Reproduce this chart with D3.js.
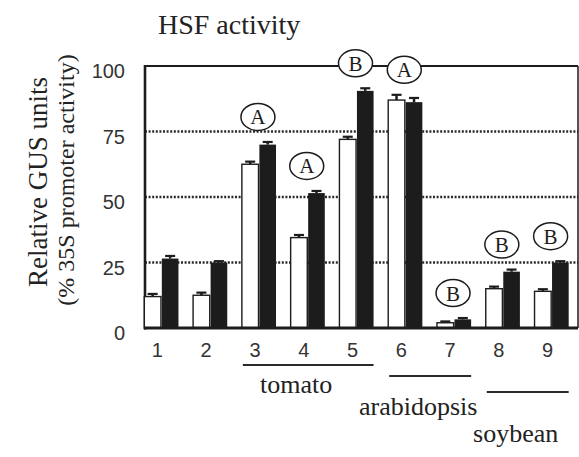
<!doctype html>
<html>
  <head>
    <meta charset="utf-8">
    <script src="https://d3js.org/d3.v7.min.js"></script>
    <style>
      body { margin: 0; background: #fff; }
      svg { display: block; }
    </style>
  </head>
  <body>
    <svg id="chart" width="579" height="457"></svg>
    <script>
      // construct numbers on the x axis
      const constructs = ["1", "2", "3", "4", "5", "6", "7", "8", "9"];
      // relative GUS units, open bars and filled bars
      const openValues = [12, 12.5, 62.5, 34.5, 72, 87, 2, 15, 14];
      const openErrors = [1, 1, 1, 1, 1, 2, 0.5, 0.8, 0.8];
      const filledValues = [26.5, 25, 70, 51.5, 90.5, 86.2, 3.3, 21.5, 25];
      const filledErrors = [1, 0.5, 1, 0.8, 1, 1.6, 0.5, 0.8, 0.5];
      // circled letters over the bars
      const markConstructs = ["3", "4", "5", "6", "7", "8", "9"];
      const markLetters = ["A", "A", "B", "A", "B", "B", "B"];
      // species groups under the axis
      const groupNames = ["tomato", "arabidopsis", "soybean"];
      const groupFirst = ["3", "6", "8"];
      const groupLast = ["5", "7", "9"];
      const yTicks = [0, 25, 50, 75, 100];

      const ink = "#1c1c1c";
      const frame = { left: 145, right: 578, top: 66, bottom: 328 };
      const groupLineY = [365, 376, 392];
      const groupTextY = [393, 415, 442];

      const svg = d3.select("#chart");

      const y = d3.scaleLinear().domain([0, 100]).range([frame.bottom, frame.top]);
      const x = d3.scaleBand().domain(constructs).range([137, 576])
        .paddingInner(0.3).paddingOuter(0.15);
      const xSub = d3.scaleBand().domain(["open", "filled"]).range([0, x.bandwidth()])
        .paddingInner(0.05);

      /* dotted grid lines */
      svg.append("g").selectAll("line")
        .data(yTicks.filter(d => d > 0 && d < 100))
        .enter().append("line")
          .attr("x1", frame.left).attr("x2", frame.right)
          .attr("y1", d => y(d)).attr("y2", d => y(d))
          .attr("stroke", "#2a2a2a").attr("stroke-width", 2.4)
          .attr("stroke-dasharray", "2,1.6");

      /* frame */
      svg.append("line").attr("x1", frame.left).attr("x2", frame.right)
        .attr("y1", frame.top).attr("y2", frame.top)
        .attr("stroke", ink).attr("stroke-width", 2);
      svg.append("line").attr("x1", frame.right).attr("x2", frame.right)
        .attr("y1", frame.top).attr("y2", frame.bottom)
        .attr("stroke", ink).attr("stroke-width", 1.5);
      svg.append("line").attr("x1", frame.left).attr("x2", frame.left)
        .attr("y1", frame.top - 1).attr("y2", frame.bottom + 1.5)
        .attr("stroke", ink).attr("stroke-width", 2.6);

      /* bars */
      const rows = constructs.map((c, i) => ({
        c: c,
        open: openValues[i], openErr: openErrors[i],
        filled: filledValues[i], filledErr: filledErrors[i]
      }));

      const groups = svg.append("g").selectAll("g")
        .data(rows)
        .enter().append("g")
          .attr("transform", d => "translate(" + x(d.c) + ",0)");

      groups.append("rect")
        .attr("x", xSub("open"))
        .attr("y", d => y(d.open))
        .attr("width", xSub.bandwidth())
        .attr("height", d => y(0) - y(d.open))
        .attr("fill", "#fff").attr("stroke", ink).attr("stroke-width", 1.4);

      groups.append("rect")
        .attr("x", xSub("filled"))
        .attr("y", d => y(d.filled))
        .attr("width", xSub.bandwidth())
        .attr("height", d => y(0) - y(d.filled))
        .attr("fill", ink);

      /* error bars */
      function errorBar(sel, key, errKey, color) {
        const cx = xSub(key) + xSub.bandwidth() / 2;
        sel.append("line")
          .attr("x1", cx).attr("x2", cx)
          .attr("y1", d => y(d[key])).attr("y2", d => y(d[key] + d[errKey]))
          .attr("stroke", color).attr("stroke-width", 2.5);
        sel.append("line")
          .attr("x1", cx - 5).attr("x2", cx + 5)
          .attr("y1", d => y(d[key] + d[errKey])).attr("y2", d => y(d[key] + d[errKey]))
          .attr("stroke", color).attr("stroke-width", 2.2);
      }
      errorBar(groups, "open", "openErr", ink);
      errorBar(groups, "filled", "filledErr", ink);

      /* baseline */
      svg.append("line").attr("x1", frame.left - 1).attr("x2", frame.right)
        .attr("y1", frame.bottom).attr("y2", frame.bottom)
        .attr("stroke", ink).attr("stroke-width", 2.8);

      /* circled letters */
      const marks = markConstructs.map((c, i) => {
        const k = constructs.indexOf(c);
        const top = Math.max(openValues[k] + openErrors[k], filledValues[k] + filledErrors[k]);
        return { c: c, letter: markLetters[i], top: top };
      });

      const markG = svg.append("g").selectAll("g")
        .data(marks)
        .enter().append("g")
          .attr("transform", d => "translate(" + (x(d.c) + x.bandwidth() / 2 - 1) + "," + (y(d.top) - 25) + ")");

      markG.append("ellipse")
        .attr("rx", 17).attr("ry", 13.5)
        .attr("fill", "#fff").attr("stroke", ink).attr("stroke-width", 1.5);

      markG.append("text")
        .attr("text-anchor", "middle")
        .attr("y", 7.5)
        .attr("font-family", "'Liberation Serif', 'Times New Roman', serif")
        .attr("font-size", 21)
        .attr("fill", ink)
        .text(d => d.letter);

      /* y tick labels */
      svg.append("g").selectAll("text")
        .data(yTicks)
        .enter().append("text")
          .attr("x", 125)
          .attr("y", d => y(d) + 12)
          .attr("text-anchor", "end")
          .attr("font-family", "'Liberation Sans', Arial, sans-serif")
          .attr("font-size", 20)
          .attr("fill", "#333")
          .text(d => d);

      /* x tick labels */
      const xAxis = d3.axisBottom(x).tickSize(0).tickPadding(0);
      const xg = svg.append("g")
        .attr("transform", "translate(-4," + (frame.bottom + 15) + ")")
        .call(xAxis);
      xg.select(".domain").remove();
      xg.selectAll("text")
        .attr("dy", "0.71em")
        .attr("font-family", "'Liberation Sans', Arial, sans-serif")
        .attr("font-size", 20)
        .attr("fill", "#333");

      /* species groups */
      groupNames.forEach((name, i) => {
        const x0 = x(groupFirst[i]) + 1;
        const x1 = x(groupLast[i]) + x.bandwidth();
        svg.append("line")
          .attr("x1", x0).attr("x2", x1)
          .attr("y1", groupLineY[i]).attr("y2", groupLineY[i])
          .attr("stroke", "#2a2a2a").attr("stroke-width", 2);
        svg.append("text")
          .attr("x", (x0 + x1) / 2 - 12)
          .attr("y", groupTextY[i])
          .attr("text-anchor", "middle")
          .attr("font-family", "'Liberation Serif', 'Times New Roman', serif")
          .attr("font-size", 26)
          .attr("fill", "#222")
          .text(name);
      });

      /* titles */
      svg.append("text")
        .attr("x", 158).attr("y", 34)
        .attr("font-family", "'Liberation Serif', 'Times New Roman', serif")
        .attr("font-size", 28)
        .attr("fill", "#222")
        .text("HSF activity");

      svg.append("text")
        .attr("transform", "translate(47,182) rotate(-90)")
        .attr("text-anchor", "middle")
        .attr("font-family", "'Liberation Serif', 'Times New Roman', serif")
        .attr("font-size", 27)
        .attr("fill", "#222")
        .text("Relative GUS units");

      svg.append("text")
        .attr("transform", "translate(74,180) rotate(-90)")
        .attr("text-anchor", "middle")
        .attr("font-family", "'Liberation Serif', 'Times New Roman', serif")
        .attr("font-size", 24)
        .attr("fill", "#222")
        .text("(% 35S promoter activity)");
    </script>
  </body>
</html>
